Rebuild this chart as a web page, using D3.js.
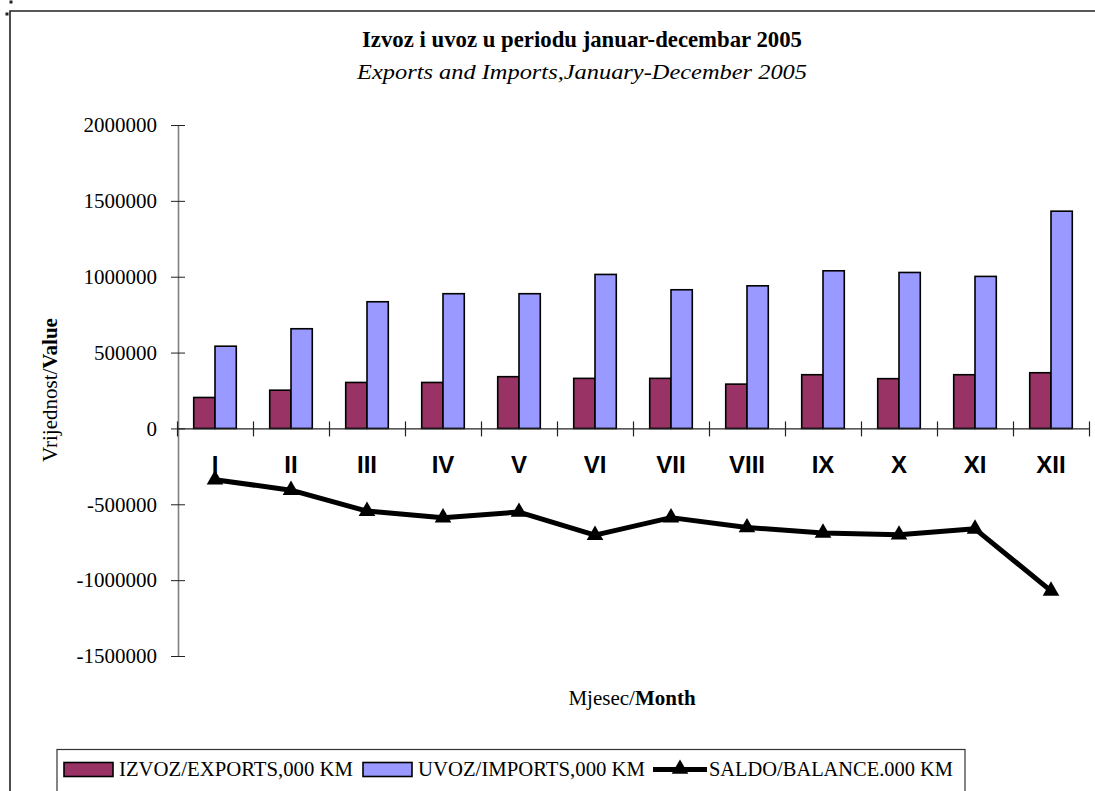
<!DOCTYPE html>
<html>
<head>
<meta charset="utf-8">
<script src="https://cdn.jsdelivr.net/npm/d3@7/dist/d3.min.js"></script>
<style>
  html, body { margin: 0; padding: 0; background: #fff; }
  svg { display: block; }
</style>
</head>
<body>
<svg id="chart" width="1095" height="791"></svg>
<script>
// ---- Data ----
const months = ["I", "II", "III", "IV", "V", "VI", "VII", "VIII", "IX", "X", "XI", "XII"];
const exportsVals = [204000, 252000, 303000, 303000, 341000, 330000, 330000, 292000, 354000, 328000, 354000, 367000];
const importsVals = [542000, 657000, 835000, 888000, 888000, 1015000, 914000, 940000, 1039000, 1028000, 1002000, 1432000];
const balanceVals = [-338000, -407000, -545000, -588000, -551000, -703000, -588000, -653000, -689000, -701000, -662000, -1071000];
const yTickVals = [2000000, 1500000, 1000000, 500000, 0, -500000, -1000000, -1500000];
const seriesNames = ["IZVOZ/EXPORTS,000 KM", "UVOZ/IMPORTS,000 KM", "SALDO/BALANCE.000 KM"];
const seriesColors = ["#993366", "#9999FF", "#000000"];
const titleText = "Izvoz i uvoz u periodu januar-decembar 2005";
const subtitleText = "Exports and Imports,January-December 2005";

const SERIF = "'Liberation Serif', 'Times New Roman', serif";
const SANS = "'Liberation Sans', Arial, sans-serif";

const svg = d3.select("#chart");

// outer frame (top and left edges visible)
svg.append("path")
  .attr("d", "M10,791 L10,11 L1095,11")
  .attr("fill", "none").attr("stroke", "#222").attr("stroke-width", 1.6);
svg.append("rect").attr("x", 9.5).attr("y", 0.5).attr("width", 3).attr("height", 3).attr("fill", "#222");
svg.append("rect").attr("x", 5.5).attr("y", 12.5).attr("width", 3).attr("height", 3).attr("fill", "#222");

// scales
const plotLeft = 177, plotRight = 1089;
const y = d3.scaleLinear().domain([-1500000, 2000000]).range([656, 125]);
const xIdx = d3.scaleLinear().domain([0, months.length]).range([plotLeft, plotRight]);
const x0 = d3.scaleBand().domain(months).range([plotLeft, plotRight]).paddingInner(0.44).paddingOuter(0.22);
const x1 = d3.scaleBand().domain(["exp", "imp"]).range([0, x0.bandwidth()]);

// title
svg.append("text")
  .attr("x", 582).attr("y", 47)
  .attr("text-anchor", "middle")
  .style("font-family", SERIF).style("font-size", "23px").style("font-weight", "bold")
  .attr("textLength", 440).attr("lengthAdjust", "spacingAndGlyphs")
  .text(titleText);
svg.append("text")
  .attr("x", 582).attr("y", 79)
  .attr("text-anchor", "middle")
  .style("font-family", SERIF).style("font-size", "21px").style("font-style", "italic")
  .attr("textLength", 450).attr("lengthAdjust", "spacingAndGlyphs")
  .text(subtitleText);

// y axis
const yAxis = d3.axisLeft(y).tickValues(yTickVals).tickSize(0).tickPadding(0).tickFormat(d => String(d));
const gy = svg.append("g").attr("transform", `translate(${plotLeft + 1},0)`).call(yAxis);
gy.select(".domain").attr("stroke", "#808080").attr("stroke-width", 1.6);
gy.selectAll(".tick line").remove();
gy.selectAll(".tick").append("line")
  .attr("x1", -7).attr("x2", 7).attr("stroke", "#222").attr("stroke-width", 1);
gy.selectAll(".tick text")
  .attr("x", -21)
  .style("font-family", SERIF).style("font-size", "21px").attr("fill", "#000");

// bars
const gBars = svg.append("g");
months.forEach((m, i) => {
  const pair = [{k: "exp", v: exportsVals[i], c: seriesColors[0]}, {k: "imp", v: importsVals[i], c: seriesColors[1]}];
  gBars.selectAll(null).data(pair).enter().append("rect")
    .attr("x", d => x0(m) + x1(d.k))
    .attr("y", d => y(Math.max(0, d.v)))
    .attr("width", x1.bandwidth())
    .attr("height", d => Math.abs(y(d.v) - y(0)))
    .attr("fill", d => d.c)
    .attr("stroke", "#000").attr("stroke-width", 1.6);
});

// x axis (category boundaries)
const xAxis = d3.axisBottom(xIdx).tickValues(d3.range(0, months.length + 1)).tickSize(0).tickFormat("");
const gx = svg.append("g").attr("transform", `translate(0,${y(0)})`).call(xAxis);
gx.select(".domain").attr("stroke", "#222").attr("stroke-width", 1.2);
gx.selectAll(".tick").append("line")
  .attr("y1", -7).attr("y2", 8).attr("stroke", "#222").attr("stroke-width", 1.2);

// category labels
svg.append("g").selectAll("text").data(months).enter().append("text")
  .attr("x", d => x0(d) + x0.bandwidth() / 2)
  .attr("y", 473)
  .attr("text-anchor", "middle")
  .style("font-family", SANS).style("font-weight", "bold").style("font-size", "24px")
  .text(d => d);

// balance line
const linePts = months.map((m, i) => [x0(m) + x0.bandwidth() / 2, y(balanceVals[i])]);
svg.append("path")
  .attr("d", d3.line()(linePts))
  .attr("fill", "none").attr("stroke", "#000").attr("stroke-width", 5)
  .attr("stroke-linejoin", "round");
const tri = d3.symbol().type(d3.symbolTriangle).size(120);
svg.append("g").selectAll("path").data(linePts).enter().append("path")
  .attr("transform", d => `translate(${d[0]},${d[1]})`)
  .attr("d", tri)
  .attr("fill", "#000");

// axis titles
const yTitle = svg.append("text")
  .attr("transform", "translate(57,390) rotate(-90)")
  .attr("text-anchor", "middle")
  .style("font-family", SERIF).style("font-size", "21px");
yTitle.append("tspan").text("Vrijednost/");
yTitle.append("tspan").style("font-weight", "bold").text("Value");

const xTitle = svg.append("text")
  .attr("x", 632).attr("y", 705)
  .attr("text-anchor", "middle")
  .style("font-family", SERIF).style("font-size", "21px");
xTitle.append("tspan").text("Mjesec/");
xTitle.append("tspan").style("font-weight", "bold").text("Month");

// legend
const lg = svg.append("g");
lg.append("rect").attr("x", 57).attr("y", 749.5).attr("width", 908).attr("height", 60)
  .attr("fill", "#fff").attr("stroke", "#333").attr("stroke-width", 1.2);
const legendItems = [
  {name: seriesNames[0], color: seriesColors[0], type: "bar", sx: 64, tx: 119, tw: 234},
  {name: seriesNames[1], color: seriesColors[1], type: "bar", sx: 363, tx: 418, tw: 227},
  {name: seriesNames[2], color: seriesColors[2], type: "line", sx: 653, tx: 709, tw: 244}
];
legendItems.forEach(it => {
  if (it.type === "bar") {
    lg.append("rect").attr("x", it.sx).attr("y", 762.5).attr("width", 49).attr("height", 14)
      .attr("fill", it.color).attr("stroke", "#000").attr("stroke-width", 1.6);
  } else {
    lg.append("line").attr("x1", it.sx).attr("x2", it.sx + 54).attr("y1", 769.5).attr("y2", 769.5)
      .attr("stroke", "#000").attr("stroke-width", 5);
    lg.append("path").attr("transform", `translate(${it.sx + 27},769)`).attr("d", tri).attr("fill", "#000");
  }
  lg.append("text").attr("x", it.tx).attr("y", 776)
    .style("font-family", SERIF).style("font-size", "20px")
    .attr("textLength", it.tw).attr("lengthAdjust", "spacingAndGlyphs")
    .text(it.name);
});
</script>
</body>
</html>
